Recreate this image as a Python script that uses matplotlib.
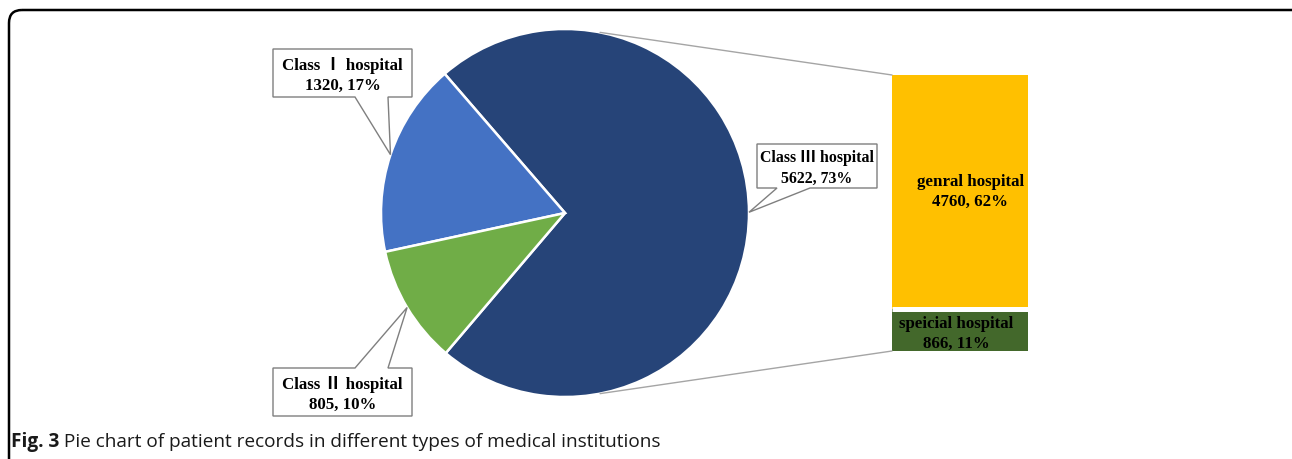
import numpy as np
import matplotlib
matplotlib.use("Agg")
import matplotlib.pyplot as plt
from matplotlib.patches import FancyBboxPatch, Polygon, ConnectionPatch

# ---- data ----
pie_labels = ["Class Ⅲ hospital", "Class Ⅰ hospital", "Class Ⅱ hospital"]
pie_values = [5622, 1320, 805]
pie_pcts = ["73%", "17%", "10%"]
pie_colors = ["#264478", "#4472C4", "#70AD47"]

bar_labels = ["speicial hospital", "genral hospital"]
bar_values = [866, 4760]
bar_pcts = ["11%", "62%"]
bar_colors = ["#43682B", "#FFC000"]

caption_bold = "Fig. 3"
caption_text = " Pie chart of patient records in different types of medical institutions"

W, H = 1292, 459
DPI = 100
fig = plt.figure(figsize=(W / DPI, H / DPI), dpi=DPI)
fig.patch.set_facecolor("white")

def fig_rect(x0, y0, x1, y1):
    return [x0 / W, (H - y1) / H, (x1 - x0) / W, (y1 - y0) / H]

serif = ["Liberation Serif", "Noto Sans CJK SC", "DejaVu Serif"]
LBL_FS = 12.2
LBL_LS = 1.28

# ---- pie ----
ax_pie = fig.add_axes(fig_rect(381, 29, 749, 397))
wedges, _ = ax_pie.pie(pie_values, colors=pie_colors, startangle=229.6,
                       counterclock=True, radius=1.0,
                       wedgeprops=dict(edgecolor="white", linewidth=1.8))
ax_pie.set_xlim(-1, 1)
ax_pie.set_ylim(-1, 1)
ax_pie.set_aspect("equal")
ax_pie.axis("off")
for w in wedges:
    w.set_clip_on(False)

# ---- bar ----
ax_bar = fig.add_axes(fig_rect(892, 75, 1028, 351))
bottom = 0
bounds = []
for v, c in zip(bar_values, bar_colors):
    ax_bar.bar(0, v, bottom=bottom, width=1.0, color=c, edgecolor="none")
    bottom += v
    bounds.append(bottom)
total_bar = sum(bar_values)
ax_bar.set_xlim(-0.5, 0.5)
ax_bar.set_ylim(0, total_bar)
ax_bar.axis("off")
ax_bar.hlines(bounds[0], -0.5, 0.5, color="white", linewidth=3.6)

# bar labels
ax_bar.text(-0.03, bar_values[0] * 0.40, f"{bar_labels[0]}\n{bar_values[0]}, {bar_pcts[0]}",
            ha="center", va="center", fontsize=LBL_FS, fontweight="bold",
            family=serif, color="black", linespacing=LBL_LS)
ax_bar.text(0.074, bar_values[0] + bar_values[1] * 0.50,
            f"{bar_labels[1]}\n{bar_values[1]}, {bar_pcts[1]}",
            ha="center", va="center", fontsize=LBL_FS, fontweight="bold",
            family=serif, color="black", linespacing=LBL_LS)

# connector lines
ang = np.deg2rad(79)
for sgn, yb in [(1, total_bar), (-1, 0)]:
    con = ConnectionPatch(xyA=(np.cos(ang), sgn * np.sin(ang)), coordsA=ax_pie.transData,
                          xyB=(-0.5, yb), coordsB=ax_bar.transData,
                          color="#A5A5A5", linewidth=1.0)
    fig.add_artist(con)

# ---- overlay (frame, callouts, caption) ----
ax_o = fig.add_axes([0, 0, 1, 1])
ax_o.set_xlim(0, W)
ax_o.set_ylim(H, 0)
ax_o.axis("off")
ax_o.patch.set_alpha(0)

frame = FancyBboxPatch((9, 10), 1300, 480, boxstyle="round,pad=0,rounding_size=13",
                       facecolor="none", edgecolor="black", linewidth=1.8)
ax_o.add_patch(frame)

def to_overlay(ax, pt):
    disp = ax.transData.transform(pt)
    return ax_o.transData.inverted().transform(disp)

boxes = [
    (757, 144, 877, 188, (777, 810), "bottom", 11.4),
    (273, 49, 412, 97, (355, 388), "bottom", LBL_FS),
    (273, 368, 412, 416, (355, 388), "top", LBL_FS),
]
theta = [np.deg2rad((w.theta1 + w.theta2) / 2) for w in wedges]

for i, (x0, y0, x1, y1, (bx0, bx1), side, fs) in enumerate(boxes):
    tip = to_overlay(ax_pie, (np.cos(theta[i]), np.sin(theta[i])))
    if side == "bottom":
        pts = [(x0, y0), (x1, y0), (x1, y1), (bx1, y1), tuple(tip), (bx0, y1), (x0, y1)]
    else:
        pts = [(x0, y0), (bx0, y0), tuple(tip), (bx1, y0), (x1, y0), (x1, y1), (x0, y1)]
    poly = Polygon(pts, closed=True, facecolor="white", edgecolor="#7F7F7F", linewidth=1.0)
    ax_o.add_patch(poly)
    ax_o.text((x0 + x1) / 2, (y0 + y1) / 2 + 2.5,
              f"{pie_labels[i]}\n{pie_values[i]}, {pie_pcts[i]}",
              ha="center", va="center", fontsize=fs, fontweight="bold",
              family=serif, color="black", linespacing=LBL_LS * LBL_FS / fs)

# caption
cap_font = ["Open Sans", "DejaVu Sans"]
t1 = ax_o.text(11, 442, caption_bold, ha="left", va="center", fontsize=13.65,
               fontweight="bold", family=cap_font, color="#1a1a1a")
fig.canvas.draw()
bb = t1.get_window_extent()
x_end = ax_o.transData.inverted().transform((bb.x1, bb.y0))[0]
ax_o.text(x_end, 442, caption_text, ha="left", va="center", fontsize=13.65,
          family=cap_font, color="#1a1a1a")

fig.savefig("out.png", dpi=DPI, facecolor="white")
